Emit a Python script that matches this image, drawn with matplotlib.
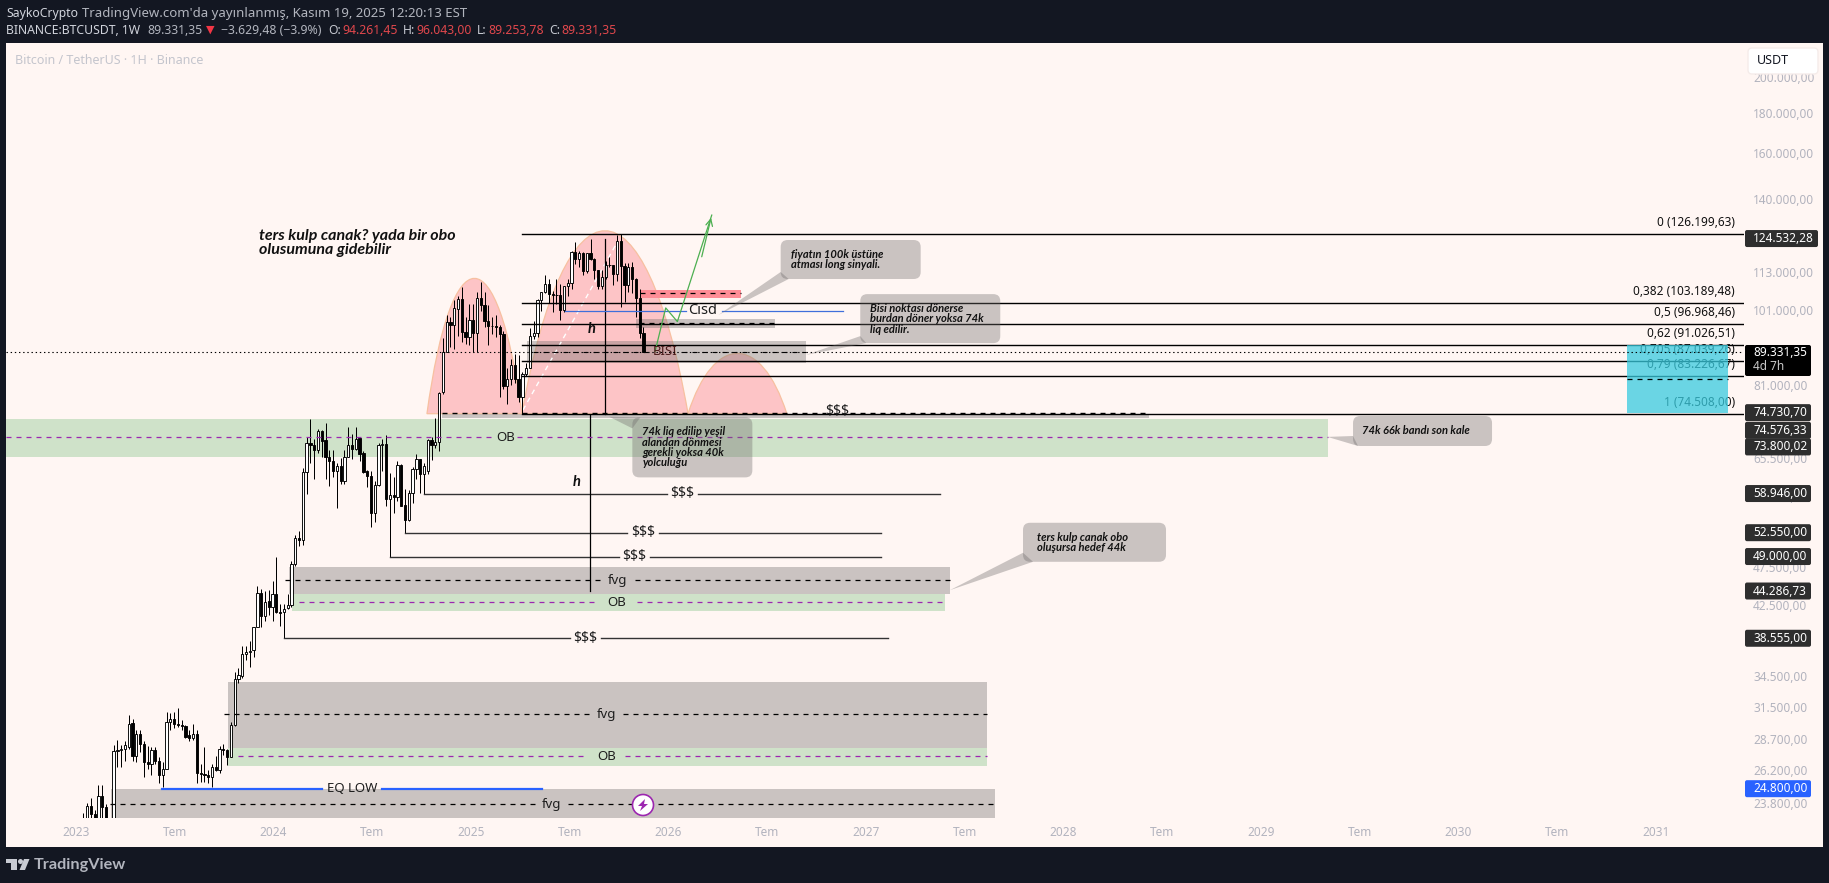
import numpy as np
import matplotlib
matplotlib.use('Agg')
import matplotlib.pyplot as plt
from matplotlib.patches import Rectangle, PathPatch, FancyBboxPatch, Polygon, Circle
from matplotlib.path import Path
from matplotlib.transforms import IdentityTransform
from matplotlib.ticker import FixedLocator, NullLocator

plt.rcParams['font.family'] = ['Noto Sans', 'DejaVu Sans']
plt.rcParams['lines.scale_dashes'] = False

# weekly BTCUSDT candles in thousands
opens = [20.9, 22.7, 23.6, 23.0, 21.8, 24.3, 23.5, 22.0, 20.4, 27.7, 27.8, 27.9, 28.0, 30.1, 27.3, 29.1, 28.3, 26.8, 26.7, 27.8,
         26.9, 25.8, 26.3, 30.2, 30.4, 30.0, 29.9, 29.8, 29.0, 28.8, 29.1, 26.0, 25.9, 25.8, 25.7, 26.4, 26.2, 27.9, 27.8, 27.2,
         29.9, 34.2, 34.5, 36.8, 37.0, 37.2, 39.8, 44.0, 41.2, 43.0, 42.3, 43.9, 41.6, 41.6, 42.1, 42.5, 48.0, 51.8, 51.4, 62.7,
         68.4, 67.9, 67.0, 70.9, 68.9, 65.7, 64.9, 63.0, 63.9, 61.1, 65.7, 67.9, 67.1, 69.3, 66.3, 63.0, 62.1, 55.6, 60.5, 67.9,
         68.2, 58.0, 58.7, 58.4, 64.0, 57.0, 54.5, 59.0, 63.3, 65.2, 62.4, 63.0, 69.0, 67.9, 68.5, 79.5, 89.2, 97.6, 96.6, 101.3,
         104.4, 94.6, 93.4, 98.2, 94.5, 104.5, 102.6, 97.7, 96.4, 96.4, 96.2, 94.0, 80.7, 82.6, 86.0, 82.4, 78.2, 83.7, 85.2, 93.7,
         94.3, 104.1, 106.4, 109.0, 105.7, 105.6, 105.5, 101.0, 108.3, 109.2, 119.8, 117.3, 119.4, 113.3, 119.3, 117.4, 113.5, 108.2, 111.1, 115.3,
         115.2, 112.2, 123.5, 115.0, 108.6, 114.5, 110.5, 104.7, 94.26]
highs = [23.1, 23.8, 24.1, 23.3, 25.1, 25.1, 23.7, 22.4, 28.2, 28.6, 28.2, 28.5, 30.8, 30.4, 29.5, 29.5, 28.5, 28.1, 28.0, 28.0,
         27.2, 26.8, 31.1, 31.0, 31.1, 31.4, 30.3, 29.9, 29.5, 30.0, 29.5, 26.7, 28.0, 26.2, 26.7, 27.3, 28.1, 28.3, 27.9, 30.2,
         34.9, 35.3, 37.7, 37.7, 38.2, 39.9, 44.9, 44.5, 44.3, 44.4, 45.6, 49.0, 42.6, 42.6, 43.9, 48.3, 52.2, 52.8, 63.5, 69.6,
         73.3, 69.1, 71.3, 71.1, 72.6, 66.9, 66.9, 64.5, 65.4, 67.0, 71.7, 70.2, 71.7, 69.3, 66.7, 63.1, 63.0, 61.2, 68.3, 69.2,
         70.0, 62.6, 61.8, 64.9, 64.2, 59.7, 59.6, 63.8, 66.2, 65.2, 64.5, 69.2, 69.5, 73.6, 79.5, 93.0, 99.4, 98.9, 104.1, 105.2,
         108.0, 99.0, 102.7, 102.7, 106.4, 109.6, 106.4, 102.5, 98.8, 99.4, 96.5, 95.0, 85.3, 87.4, 88.7, 88.5, 84.2, 86.5, 95.7, 97.9,
         104.3, 106.6, 111.9, 110.7, 106.8, 110.5, 108.9, 108.5, 110.5, 120.0, 123.2, 120.2, 119.8, 119.3, 124.5, 117.6, 113.6, 113.4, 116.6, 117.9,
         115.4, 125.9, 126.2, 115.9, 116.0, 116.4, 110.9, 107.5, 96.04]
lows = [20.4, 22.3, 22.5, 21.4, 21.5, 22.7, 21.9, 19.5, 20.2, 26.4, 26.4, 26.9, 27.9, 26.9, 26.8, 27.6, 25.7, 26.3, 25.8, 26.7,
        25.2, 24.9, 26.3, 29.5, 29.6, 29.7, 29.5, 28.8, 28.5, 28.6, 25.2, 25.3, 25.3, 25.2, 24.9, 26.1, 26.0, 27.4, 26.6, 27.2,
        29.8, 33.8, 34.3, 36.2, 35.4, 36.5, 39.8, 39.9, 40.6, 41.3, 40.6, 41.5, 40.0, 38.6, 42.0, 42.2, 47.6, 50.6, 50.7, 58.9,
        64.5, 61.5, 66.3, 65.7, 61.6, 60.3, 61.9, 56.5, 60.7, 60.7, 65.6, 65.3, 67.0, 64.9, 62.6, 60.0, 53.4, 54.2, 60.3, 63.0,
        56.9, 49.0, 55.6, 57.7, 56.9, 52.55, 54.4, 57.4, 61.5, 59.0, 58.946, 62.5, 65.0, 67.4, 66.8, 79.0, 89.2, 90.7, 90.2, 93.5,
        92.0, 91.5, 91.2, 89.3, 89.2, 100.7, 96.1, 91.2, 94.0, 93.4, 78.2, 80.0, 76.6, 81.1, 81.6, 77.1, 74.5, 83.1, 85.1, 92.8,
        93.3, 100.7, 106.0, 103.0, 100.4, 102.7, 98.2, 100.4, 105.1, 107.5, 115.7, 114.7, 112.0, 112.6, 116.8, 110.7, 107.3, 107.3, 110.6, 114.4,
        108.6, 110.0, 102.0, 103.5, 106.6, 106.2, 98.9, 93.0, 89.25]
closes = [22.7, 23.6, 23.0, 21.8, 24.3, 23.5, 22.0, 20.4, 27.7, 27.8, 27.9, 28.2, 30.0, 27.3, 29.1, 28.3, 26.8, 26.7, 27.8, 26.9,
          25.8, 26.3, 30.2, 30.4, 30.0, 29.9, 29.8, 28.9, 28.8, 29.1, 26.0, 25.9, 25.8, 25.7, 26.4, 26.2, 27.9, 27.8, 27.2, 29.9,
          34.2, 34.6, 36.8, 37.0, 37.1, 39.8, 44.0, 41.2, 42.9, 42.3, 43.9, 41.6, 41.5, 42.0, 42.5, 48.0, 51.7, 51.4, 62.7, 68.4,
          67.9, 67.0, 70.9, 68.8, 65.7, 64.9, 63.0, 63.9, 61.1, 65.7, 67.9, 67.1, 69.2, 66.2, 62.7, 62.1, 55.6, 60.5, 67.9, 68.1,
          58.0, 58.7, 58.4, 64.0, 56.9, 54.5, 59.0, 63.3, 65.2, 62.4, 63.9, 69.0, 67.9, 68.5, 79.2, 89.2, 97.6, 96.6, 101.5, 104.4,
          94.6, 93.4, 98.2, 94.5, 104.5, 102.6, 97.7, 96.4, 96.45, 96.2, 94.0, 80.7, 82.6, 86.0, 82.4, 78.3, 83.7, 85.2, 93.7, 94.3,
          104.1, 106.5, 109.0, 105.7, 105.6, 105.5, 100.9, 108.3, 109.2, 119.8, 117.2, 119.4, 113.3, 119.3, 117.4, 113.5, 108.2, 111.1, 115.3, 115.2,
          112.2, 123.5, 115.0, 108.6, 114.5, 110.5, 104.7, 94.26, 89.33]

year_ticks = [2023 + 0.5 * i for i in range(17)]
year_labels = ['2023', 'Tem', '2024', 'Tem', '2025', 'Tem', '2026', 'Tem', '2027', 'Tem', '2028', 'Tem', '2029', 'Tem', '2030', 'Tem', '2031']
price_ticks = [23800, 26200, 28700, 31500, 34500, 42500, 47500, 52500, 58500, 65500, 81000, 101000, 113000, 140000, 160000, 180000, 200000]

fib_prices = [126199.63, 103189.48, 96968.46, 91026.51, 87039.26, 83226.67, 74508.00]
fib_labels = ['0 (126.199,63)', '0,382 (103.189,48)', '0,5 (96.968,46)', '0,62 (91.026,51)', '0,705 (87.039,26)', '0,79 (83.226,67)', '1 (74.508,00)']

# year from, year to, price low, price high, price of the dashed mid line
gray_zones = [(2025.284, 2026.696, 86500, 92200, 89400),
              (2025.835, 2026.539, 95900, 98400, 97100),
              (2024.080, 2027.423, 43870, 47560, 45700),
              (2023.770, 2027.613, 27970, 33900, 30850),
              (2023.177, 2027.653, 21000, 24780, 23700)]
green_zones = [(2022.6456, 2029.337, 65680, 73350, 69500),
               (2024.092, 2027.400, 41800, 43870, 42850),
               (2023.770, 2027.613, 26500, 27970, 27270)]
zone_labels = [('BISI', 2025.982, 89400), ('fvg', 2025.744, 45700), ('fvg', 2025.687, 30850), ('fvg', 2025.409, 23700),
               ('OB', 2025.177, 69500), ('OB', 2025.739, 42850), ('OB', 2025.687, 27270)]

# price, year from, year to, label year
liq_lines = [(58946, 2024.762, 2027.375, 2026.070), (52550, 2024.666, 2027.074, 2025.870),
             (49000, 2024.590, 2027.074, 2025.828), (38555, 2024.052, 2027.110, 2025.580)]

# year from, year to, base price, top price
domes = [(2024.777, 2025.258, 74500, 110800), (2025.258, 2026.099, 74500, 127400), (2026.099, 2026.599, 74500, 88900)]

tags = [(124532.28, '124.532,28', 0), (74730.70, '74.730,70', 0), (74576.33, '74.576,33', 17), (73800.02, '73.800,02', 30),
        (58946, '58.946,00', 0), (52550, '52.550,00', 0), (49000, '49.000,00', 0), (44286.73, '44.286,73', 0), (38555, '38.555,00', 0)]

arrow_years = [2025.932, 2025.986, 2026.045, 2026.219]
arrow_prices = [89400, 101600, 97600, 133400]

# text, box left year, box top price, width, height, tip year, tip price, tail base offsets, text inset
notes = [('fiyatın 100k üstüne\natması long sinyali.', 2026.568, 124000, 140, 39, 2026.252, 99500, (0, 32), (8, 39), 10),
         ('Bisi noktası dönerse\nburdan döner yoksa 74k\nliq edilir.', 2026.971, 105800, 140, 49, 2026.695, 88500, (0, 42), (6, 49), 10),
         ('74k liq edilip yeşil\nalandan dönmesi\ngerekli yoksa 40k\nyolculuğu', 2025.817, 73700, 120, 60, 2025.699, 73850, (8, 0), (0, 11), 10),
         ('74k 66k bandı son kale', 2029.466, 74000, 139, 30, 2029.337, 69600, (0, 20), (5, 30), 9),
         ('ters kulp canak obo\noluşursa hedef 44k', 2027.795, 54100, 143, 39, 2027.425, 44400, (0, 30), (10, 39), 14)]

BG = '#fff6f3'
DARK = '#131722'
AXIS = '#b2b3be'
GRAY = '#706c6c'
GREEN = '#cfe2c9'
PURPLE = '#9c27b0'
W, H = 1829, 883
DASH = (0, (3.6, 3.6))

fig = plt.figure(figsize=(W / 100, H / 100), dpi=100, facecolor=DARK)
fig.add_artist(Rectangle((6, H - 847), 1817, 804, fc=BG, ec='none', transform=IdentityTransform(), zorder=-1))
ax = fig.add_axes([6 / W, (H - 818) / H, 1738 / W, 775 / H], facecolor=BG)
ax.set_yscale('log')
ax.set_xlim(2022.6456, 2031.4456)
ax.set_ylim(22757, 221000)
for s in ax.spines.values():
    s.set_visible(False)

ax.xaxis.set_major_locator(FixedLocator(year_ticks))
ax.set_xticklabels(year_labels, fontsize=8.5, color=AXIS)
for lab, txt in zip(ax.get_xticklabels(), year_labels):
    if txt != 'Tem':
        lab.set_fontweight('bold')
ax.yaxis.tick_right()
ax.yaxis.set_major_locator(FixedLocator(price_ticks))
ax.yaxis.set_minor_locator(NullLocator())
ax.set_yticklabels([f'{p:,.0f},00'.replace(',', '.', 1) for p in price_ticks], fontsize=8.5, color=AXIS)
ax.tick_params(axis='both', length=0)
ax.tick_params(axis='x', pad=6)
ax.tick_params(axis='y', pad=6.5)


def gap_line(x0, x1, y, gap0=None, gap1=None, **kw):
    if gap0 is None:
        ax.plot([x0, x1], [y, y], **kw)
    else:
        ax.plot([x0, gap0], [y, y], **kw)
        ax.plot([gap1, x1], [y, y], **kw)


# domes
for x0, x1, base, top in domes:
    ctrl = base * (top / base) ** (4 / 3)
    a = (x1 - x0) * 0.26
    path = Path([(x0, base), (x0 + a, ctrl), (x1 - a, ctrl), (x1, base), (x0, base)],
                [Path.MOVETO, Path.CURVE4, Path.CURVE4, Path.CURVE4, Path.CLOSEPOLY])
    ax.add_patch(PathPatch(path, fc='#fdc4c6', ec='#f7c0a0', lw=0.9, zorder=1))

# zones
for x0, x1, lo, hi, mid in green_zones:
    ax.add_patch(Rectangle((x0, lo), x1 - x0, hi - lo, fc=GREEN, ec='none', zorder=1.5))
ax.add_patch(Rectangle((2025.856, 104500), 0.511, 2600, fc='#fe8d96', ec='none', zorder=1.5))
gap_line(2025.856, 2026.367, 106250, color='black', lw=0.9, ls=DASH, zorder=5)
ax.add_patch(Rectangle((2024.853, 73570), 3.58, 938, fc=GRAY, alpha=0.37, ec='none', zorder=2))
for x0, x1, lo, hi, mid in gray_zones:
    ax.add_patch(Rectangle((x0, lo), x1 - x0, hi - lo, fc=GRAY, alpha=0.37, ec='none', zorder=2))

gap_line(2025.314, 2026.696, 89400, 2025.917, 2026.068, color='black', lw=0.8, ls=DASH, zorder=5)
gap_line(2025.850, 2026.539, 97100, color='black', lw=0.9, ls=DASH, zorder=5)
gap_line(2024.06, 2027.423, 45700, 2025.66, 2025.83, color='black', lw=0.9, ls=DASH, zorder=5)
gap_line(2023.75, 2027.613, 30850, 2025.60, 2025.77, color='black', lw=0.9, ls=DASH, zorder=5)
gap_line(2023.17, 2027.653, 23700, 2025.33, 2025.49, color='black', lw=0.9, ls=DASH, zorder=5)
gap_line(2022.6456, 2029.337, 69500, 2025.111, 2025.233, color=PURPLE, lw=0.9, ls=DASH, zorder=5)
gap_line(2024.13, 2027.400, 42850, 2025.64, 2025.84, color=PURPLE, lw=0.9, ls=DASH, zorder=5)
gap_line(2023.82, 2027.613, 27270, 2025.59, 2025.78, color=PURPLE, lw=0.9, ls=DASH, zorder=5)
gap_line(2024.853, 2028.433, 74576, 2026.80, 2026.92, color='black', lw=1.0, ls=DASH, zorder=5)

for txt, x, y in zone_labels:
    ax.text(x, y, txt, ha='center', va='center', fontsize=9.5, color='#1e1e1e' if txt != 'BISI' else '#4a1a1a', zorder=6)
ax.text(2026.856, 74900, '$$$', ha='center', va='center', fontsize=10, color='#1e1e1e', zorder=6)

# candles
opens_usd = np.array(opens) * 1000
highs_usd = np.array(highs) * 1000
lows_usd = np.array(lows) * 1000
closes_usd = np.array(closes) * 1000
xs = 2023.037 + np.arange(len(opens)) * 7 / 365.25
ax.vlines(xs, lows_usd, highs_usd, color='black', lw=0.72, zorder=3)
up = closes_usd >= opens_usd
ax.bar(xs, np.abs(closes_usd - opens_usd), bottom=np.minimum(opens_usd, closes_usd), width=0.0115,
       color=np.where(up, 'white', 'black'), edgecolor='black', lw=0.65, zorder=3.2)

# fib levels
for p, lab in zip(fib_prices, fib_labels):
    ax.plot([2025.258, 2031.4456], [p, p], color='black', lw=1.0, zorder=4)
    ax.annotate(lab, xy=(2031.40, p), xytext=(0, 5), textcoords='offset pixels', ha='right', va='bottom',
                fontsize=8.5, color='#111111', zorder=5)
ax.add_patch(Rectangle((2030.853, 74730), 0.512, 91026 - 74730, fc='#38cbdf', alpha=0.75, ec='none', zorder=6))
ax.plot([2030.853, 2031.365], [82500, 82500], color='black', lw=0.9, ls=DASH, zorder=7)
ax.axhline(89331.35, color='black', lw=0.8, ls=(0, (1, 2)), zorder=7)

# liquidity lines
for p, x0, x1, lx in liq_lines:
    gap_line(x0, x1, p, lx - 0.08, lx + 0.08, color='#333333', lw=1.0, zorder=4)
    ax.text(lx, p, '$$$', ha='center', va='center', fontsize=10, color='#1e1e1e', zorder=6)
gap_line(2023.437, 2025.361, 24800, 2024.244, 2024.548, color='#2962ff', lw=1.6, zorder=5)
ax.text(2024.396, 24800, 'EQ LOW', ha='center', va='center', fontsize=9.5, color='#1e1e1e', zorder=6)
gap_line(2025.476, 2026.884, 100700, 2026.087, 2026.269, color='#3f6fdb', lw=0.9, zorder=5)
ax.text(2026.175, 100700, 'Cisd', ha='center', va='center', fontsize=10.5, color='#1e1e1e', zorder=6)

# h lines
ax.plot([2025.68, 2025.68], [74500, 124500], color='black', lw=0.9, zorder=4)
ax.plot([2025.604, 2025.604], [44300, 74300], color='black', lw=0.9, zorder=4)
bold_it = dict(family=['Lato', 'DejaVu Sans'], style='italic', weight='bold', color='#111111')
ax.text(2025.611, 95400, 'h', ha='center', va='center', fontsize=10.5, zorder=6, **bold_it)
ax.text(2025.535, 61000, 'h', ha='center', va='center', fontsize=10.5, zorder=6, **bold_it)
ax.plot([2025.263, 2025.738], [75300, 122900], color='white', lw=1.0, ls=(0, (3.6, 3)), zorder=2.5)

# green arrow
ax.plot(arrow_years, arrow_prices, color='#4caf50', lw=0.9, zorder=5)
ax.annotate('', xy=(arrow_years[-1], arrow_prices[-1]), xytext=(arrow_years[-2] + 0.12, arrow_prices[-2] * 1.2),
            arrowprops=dict(arrowstyle='->', color='#4caf50', lw=0.9, mutation_scale=12), zorder=5)

ax.text(2023.927, 122900, 'ters kulp canak? yada bir obo\nolusumuna gidebilir', ha='left', va='center',
        fontsize=11.5, linespacing=0.93, zorder=6, **bold_it)

fig.canvas.draw()


def to_disp(x, y):
    return ax.transData.transform((x, y))


ident = IdentityTransform()

# callouts
for txt, bx, bp, w, h, tx, tp, b0, b1, inset in notes:
    x0, y0 = to_disp(bx, bp)
    tipx, tipy = to_disp(tx, tp)
    fig.add_artist(FancyBboxPatch((x0, y0 - h), w, h, boxstyle='round,pad=0,rounding_size=7', fc=GRAY, alpha=0.37,
                                  ec='none', transform=ident, zorder=2))
    fig.add_artist(Polygon([(x0 + b0[0], y0 - b0[1]), (tipx, tipy), (x0 + b1[0], y0 - b1[1])], fc=GRAY, alpha=0.37,
                           ec='none', transform=ident, zorder=2))
    fig.text(x0 + inset, y0 - 9, txt, transform=ident, ha='left', va='top', fontsize=8.0, linespacing=0.92, zorder=3, **bold_it)


def px_text(x, y, s, **kw):
    kw.setdefault('va', 'center')
    kw.setdefault('ha', 'left')
    return fig.text(x, H - y, s, transform=ident, zorder=6, **kw)


# price tags
for p, lab, off in tags:
    yc = to_disp(2030, p)[1] - off
    w = 73 if p > 100000 else 66
    fig.add_artist(FancyBboxPatch((1745, yc - 8.5), w, 17, boxstyle='round,pad=0,rounding_size=2', fc='#2e2e2e', ec='none',
                                  transform=ident, zorder=5))
    fig.text(1753, yc, lab, transform=ident, ha='left', va='center', fontsize=8.5, weight='bold', color='white', zorder=6)

yc = to_disp(2030, 24800)[1]
fig.add_artist(FancyBboxPatch((1745, yc - 8.5), 66, 17, boxstyle='round,pad=0,rounding_size=2', fc='#2962ff', ec='none',
                              transform=ident, zorder=5))
fig.text(1753, yc, '24.800,00', transform=ident, ha='left', va='center', fontsize=8.5, weight='bold', color='white', zorder=6)

fig.add_artist(FancyBboxPatch((1745, H - 376), 66, 31, boxstyle='round,pad=0,rounding_size=2', fc='black', ec='none',
                              transform=ident, zorder=5))
px_text(1753, 352.5, '89.331,35', fontsize=8.5, weight='bold', color='white')
px_text(1753, 367, '4d 7h', fontsize=8.5, color='#c8c8c8', weight='bold')

# USDT button
fig.add_artist(FancyBboxPatch((1748, H - 74), 70, 26, boxstyle='round,pad=0,rounding_size=4', fc='white', ec='#f5ecea', lw=1,
                              transform=ident, zorder=5))
px_text(1757, 61, 'USDT', fontsize=9, color='#131722')

# lightning badge
fig.add_artist(Circle((643, H - 805), 10.5, fc='white', ec=PURPLE, lw=1.2, transform=ident, zorder=5))
fig.add_artist(Polygon([(645, H - 799), (638, H - 806), (642, H - 806), (640, H - 811), (648, H - 804), (644, H - 804)],
                       fc=PURPLE, ec='none', transform=ident, zorder=6))

# header
px_text(6, 13, 'SaykoCrypto', fontsize=8.8, weight='bold', color='#d1d4dc')
px_text(82, 13, "TradingView.com'da yayınlanmış, Kasım 19, 2025 12:20:13 EST", fontsize=9.5, color='#b2b5be')
px_text(6, 30, 'BINANCE:BTCUSDT, 1W', fontsize=8.8, weight='bold', color='#d1d4dc')
px_text(147, 30, '89.331,35', fontsize=8.8, color='#b2b5be')
px_text(206, 30, '▼', fontsize=8, color='#f23645')
px_text(221, 30, '−3.629,48 (−3.9%)', fontsize=8.8, color='#b2b5be')
for x, s in [(328, 'O:'), (403, 'H:'), (477, 'L:'), (549, 'C:')]:
    px_text(x, 30, s, fontsize=8.8, weight='bold', color='#c5c8d0')
for x, s in [(342, '94.261,45'), (416, '96.043,00'), (488, '89.253,78'), (561, '89.331,35')]:
    px_text(x, 30, s, fontsize=8.8, color='#e0474c')
px_text(15, 60.5, 'Bitcoin / TetherUS · 1H · Binance', fontsize=9, color='#c4c5cd')

# logo
logo = '#c8cbd3'
fig.add_artist(Polygon([(6, H - 859), (17, H - 859), (17, H - 870), (11, H - 870), (11, H - 863), (6, H - 863)], fc=logo, ec='none', transform=ident))
fig.add_artist(Circle((20.5, H - 861.5), 2.5, fc=logo, ec='none', transform=ident))
fig.add_artist(Polygon([(24, H - 859), (29.5, H - 859), (25, H - 870), (19.5, H - 870)], fc=logo, ec='none', transform=ident))
px_text(34, 864.5, 'TradingView', fontsize=11.7, family=['Lato', 'DejaVu Sans'], weight='bold', color='#b2b5be')

fig.savefig('out.png', dpi=100, facecolor=DARK)
